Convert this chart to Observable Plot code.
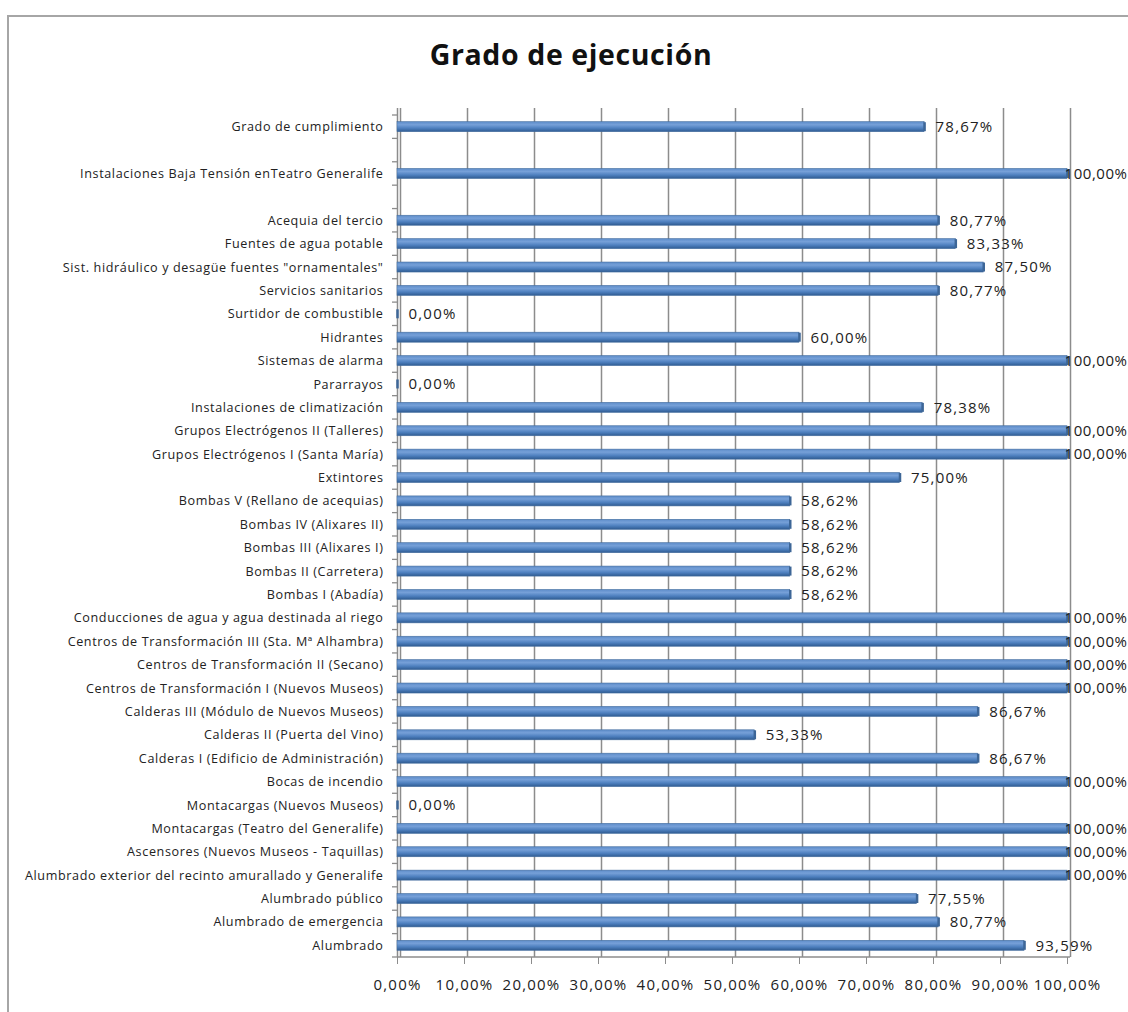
<!DOCTYPE html>
<html>
<head>
<meta charset="utf-8">
<script src="https://cdn.jsdelivr.net/npm/d3@7"></script>
<script src="https://cdn.jsdelivr.net/npm/@observablehq/plot@0.6"></script>
<style>
  html, body { margin: 0; padding: 0; background: #fff; width: 1128px; height: 1012px; overflow: hidden; }
  #frame { position: absolute; left: 7px; top: 15px; width: 1200px; height: 1100px;
           border-top: 2px solid #a6a6a6; border-left: 2px solid #a6a6a6; }
  #title { position: absolute; left: 0; top: 35px; width: 1142px; text-align: center;
           font-family: "Open Sans", sans-serif; font-weight: 700; font-size: 28.5px;
           letter-spacing: 0.6px; color: #111; }
  #chart { position: absolute; left: 0; top: 90px; }
  #chart svg .vlabel, #chart svg .xtick text { letter-spacing: 1.2px; }
  #chart svg .vlabel100 { letter-spacing: 0.55px; }
</style>
</head>
<body>
<div id="frame"></div>
<div id="title">Grado de ejecución</div>
<div id="chart"></div>
<script>
// ---- data (top to bottom, as in the chart) ----
const categories = [
  "Grado de cumplimiento",
  "Instalaciones Baja Tensión enTeatro Generalife",
  "Acequia del tercio",
  "Fuentes de agua potable",
  "Sist. hidráulico y desagüe fuentes \"ornamentales\"",
  "Servicios sanitarios",
  "Surtidor de combustible",
  "Hidrantes",
  "Sistemas de alarma",
  "Pararrayos",
  "Instalaciones de climatización",
  "Grupos Electrógenos II (Talleres)",
  "Grupos Electrógenos I (Santa María)",
  "Extintores",
  "Bombas V (Rellano de acequias)",
  "Bombas IV (Alixares II)",
  "Bombas III (Alixares I)",
  "Bombas II (Carretera)",
  "Bombas I (Abadía)",
  "Conducciones de agua y agua destinada al riego",
  "Centros de Transformación III (Sta. Mª Alhambra)",
  "Centros de Transformación II (Secano)",
  "Centros de Transformación I (Nuevos Museos)",
  "Calderas III (Módulo de Nuevos Museos)",
  "Calderas II (Puerta del Vino)",
  "Calderas I (Edificio de Administración)",
  "Bocas de incendio",
  "Montacargas (Nuevos Museos)",
  "Montacargas (Teatro del Generalife)",
  "Ascensores (Nuevos Museos - Taquillas)",
  "Alumbrado exterior del recinto amurallado y Generalife",
  "Alumbrado público",
  "Alumbrado de emergencia",
  "Alumbrado"
];
const values = [
  78.67, 100.00, 80.77, 83.33, 87.50, 80.77, 0.00, 60.00, 100.00, 0.00,
  78.38, 100.00, 100.00, 75.00, 58.62, 58.62, 58.62, 58.62, 58.62, 100.00,
  100.00, 100.00, 100.00, 86.67, 53.33, 86.67, 100.00, 0.00, 100.00, 100.00,
  100.00, 77.55, 80.77, 93.59
];
// empty rows left after these categories
const gapAfter = ["Grado de cumplimiento", "Instalaciones Baja Tensión enTeatro Generalife"];
const xTicks = [0, 10, 20, 30, 40, 50, 60, 70, 80, 90, 100];

// ---- build ----
const data = categories.map((name, i) => ({name, value: values[i]}));
const rowOrder = [];
categories.forEach((c, i) => { rowOrder.push(c); if (gapAfter.includes(c)) rowOrder.push("__gap" + i); });

const fmt = v => v.toFixed(2).replace(".", ",") + "%";
const W = 1128, H = 922;
const mTop = 18, insetTop = 7, mBottom = 55, mLeft = 397, mRight = 61;
const step = (H - mTop - insetTop - mBottom) / rowOrder.length;
const barInset = (step - 10) / 2;
const gridColor = "#8c8c8c";

const chart = Plot.plot({
  width: W,
  height: H,
  marginTop: mTop,
  marginBottom: mBottom,
  marginLeft: mLeft,
  marginRight: mRight,
  insetTop: insetTop,
  style: {fontFamily: "'Open Sans', sans-serif", color: "#222", background: "transparent", overflow: "visible"},
  x: {domain: [0, 100], label: null},
  y: {domain: rowOrder, padding: 0, round: false, label: null},
  marks: [
    Plot.gridX(xTicks, {stroke: gridColor, strokeOpacity: 1, strokeWidth: 1.5, dx: 3}),
    Plot.ruleX([0], {stroke: gridColor, strokeWidth: 1.5}),
    // frame decorations: floor line and small boundary ticks on the wall
    (index, scales, channels, dims) => {
      const g = d3.create("svg:g").attr("stroke", gridColor).attr("stroke-width", 1.3).attr("fill", "none");
      const yb = dims.height - dims.marginBottom;
      g.append("line").attr("x1", dims.marginLeft).attr("x2", dims.width - dims.marginRight + 3)
        .attr("y1", yb).attr("y2", yb);
      const y = scales.y;
      const bounds = rowOrder.map(r => y(r)).concat([y(rowOrder[rowOrder.length - 1]) + step]);
      for (const b of bounds) {
        g.append("line").attr("x1", dims.marginLeft - 5).attr("x2", dims.marginLeft).attr("y1", b).attr("y2", b);
      }
      return g.node();
    },
    Plot.axisX({ticks: xTicks, tickSize: 7, tickPadding: 15, fontSize: 15, stroke: gridColor,
                tickFormat: fmt, anchor: "bottom", color: "#222", label: null, className: "xtick"}),
    Plot.axisY({tickSize: 0, tickPadding: 14, fontSize: 12.6, label: null, className: "ytick",
                tickFormat: d => d.startsWith("__gap") ? "" : d}),
    Plot.barX(data, {x: "value", y: "name", fill: "url(#barGrad)", stroke: "#456e9f", strokeWidth: 0.6,
                     insetTop: barInset, insetBottom: barInset}),
    Plot.tickX(data, {x: "value", y: "name", stroke: "#3d6697", strokeWidth: 2.5,
                      insetTop: barInset + 0.5, insetBottom: barInset + 0.5}),
    Plot.text(data, {filter: d => d.value < 100, x: "value", y: "name", text: d => fmt(d.value),
                     dx: 11, textAnchor: "start", fontSize: 15, fill: "#222", className: "vlabel"}),
    Plot.text(data, {filter: d => d.value >= 100, x: "value", y: "name", text: d => fmt(d.value),
                     dx: -3, textAnchor: "start", fontSize: 15, fill: "#1a1a1a", className: "vlabel100"})
  ]
});

chart.insertAdjacentHTML("afterbegin",
  `<defs><linearGradient id="barGrad" x1="0" y1="0" x2="0" y2="1">
     <stop offset="0" stop-color="#5d8cc9"/>
     <stop offset="0.3" stop-color="#76a0d8"/>
     <stop offset="0.65" stop-color="#4e80bf"/>
     <stop offset="1" stop-color="#2f5b91"/>
   </linearGradient></defs>`);
chart.querySelectorAll(".ytick text").forEach(t => t.setAttribute("letter-spacing", "0.62"));
document.getElementById("chart").appendChild(chart);
</script>
</body>
</html>
